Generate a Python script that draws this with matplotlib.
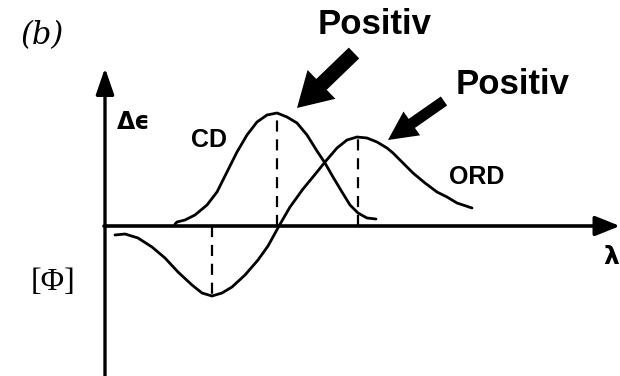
import matplotlib
matplotlib.use("Agg")
import matplotlib.pyplot as plt
from matplotlib.patches import FancyArrow

# Schematic Cotton effect: CD band and ORD curve (arbitrary units)
cd_lambda = [175, 177, 185, 195, 207, 217, 227, 237, 247, 257, 267, 277,
             287, 297, 307, 317, 325, 333, 342, 350, 358, 367, 376]
cd_signal = [2, 4, 6, 11, 21, 34, 54, 74, 91, 104, 111, 113,
             109, 103, 91, 75, 63, 49, 34, 21, 13, 8, 7]

ord_lambda = [115, 125, 138, 152, 165, 178, 192, 202, 212, 222, 232, 245,
              258, 268, 279, 290, 303, 317, 325, 337, 347, 357, 367, 377,
              387, 393, 403, 413, 425, 437, 447, 457, 472]
ord_signal = [-9, -8, -12, -21, -32, -46, -59, -67, -70, -67, -61, -49,
              -34, -20, 0, 19, 37, 54, 64, 78, 86, 89, 88, 84,
              78, 73, 63, 53, 43, 34, 29, 23, 18]

# Extremum markers (wavelength, value)
cd_peak = (277, 113)
ord_trough = (212, -70)
ord_peak = (358, 89)

label_cd = "CD"
label_ord = "ORD"
label_pos = "Positiv"

fig = plt.figure(figsize=(6.2, 3.76), dpi=100)
ax = fig.add_axes([0, 0, 1, 1])
ax.set_xlim(0, 620)
ax.set_ylim(-150, 226)
ax.axis("off")

# Coordinate axes with arrow heads
ax.annotate("", xy=(105, 158), xytext=(105, -160),
            arrowprops=dict(arrowstyle="-|>,head_length=1.6,head_width=0.55",
                            mutation_scale=10, lw=2.4, color="black",
                            shrinkA=0, shrinkB=0))
ax.annotate("", xy=(620, 0), xytext=(104, 0),
            arrowprops=dict(arrowstyle="-|>,head_length=1.5,head_width=0.6",
                            mutation_scale=10, lw=2.6, color="black",
                            shrinkA=0, shrinkB=0))

# Curves
ax.plot(cd_lambda, cd_signal, color="black", lw=2.0, solid_joinstyle="round",
        solid_capstyle="round")
ax.plot(ord_lambda, ord_signal, color="black", lw=2.0, solid_joinstyle="round",
        solid_capstyle="round")

# Dashed guides to the extrema
for xv, yv in (cd_peak, ord_trough, ord_peak):
    ax.plot([xv, xv], [0, yv], color="black", lw=1.6, ls=(0, (5, 3.5)))

# Labels
ax.text(42, 190, "(b)", fontsize=22, family="DejaVu Serif", style="italic",
        ha="center", va="center")
ax.text(134, 104, "\u0394\u03f5", fontsize=17, family="DejaVu Sans",
        weight="bold", ha="center", va="center")
ax.text(209, 86, label_cd, fontsize=18, family="Liberation Sans",
        weight="bold", ha="center", va="center")
ax.text(477, 49, label_ord, fontsize=18, family="Liberation Sans",
        weight="bold", ha="center", va="center")
ax.text(53, -56, "[\u03a6]", fontsize=23, family="Liberation Serif",
        ha="center", va="center")
ax.text(603, -31, "\u03bb", fontsize=18, family="DejaVu Sans",
        weight="bold", ha="left", va="center")

ax.text(375, 201, label_pos, fontsize=25, family="Liberation Sans",
        weight="bold", ha="center", va="center")
ax.text(513, 141, label_pos, fontsize=25, family="Liberation Sans",
        weight="bold", ha="center", va="center")

# Pointer arrows
ax.add_patch(FancyArrow(354, 173, -57, -55, width=15, head_width=40,
                        head_length=34, length_includes_head=True,
                        color="black", lw=0))
ax.add_patch(FancyArrow(444, 125, -56, -39, width=11, head_width=29,
                        head_length=29, length_includes_head=True,
                        color="black", lw=0))

fig.savefig("out.png", dpi=100)
